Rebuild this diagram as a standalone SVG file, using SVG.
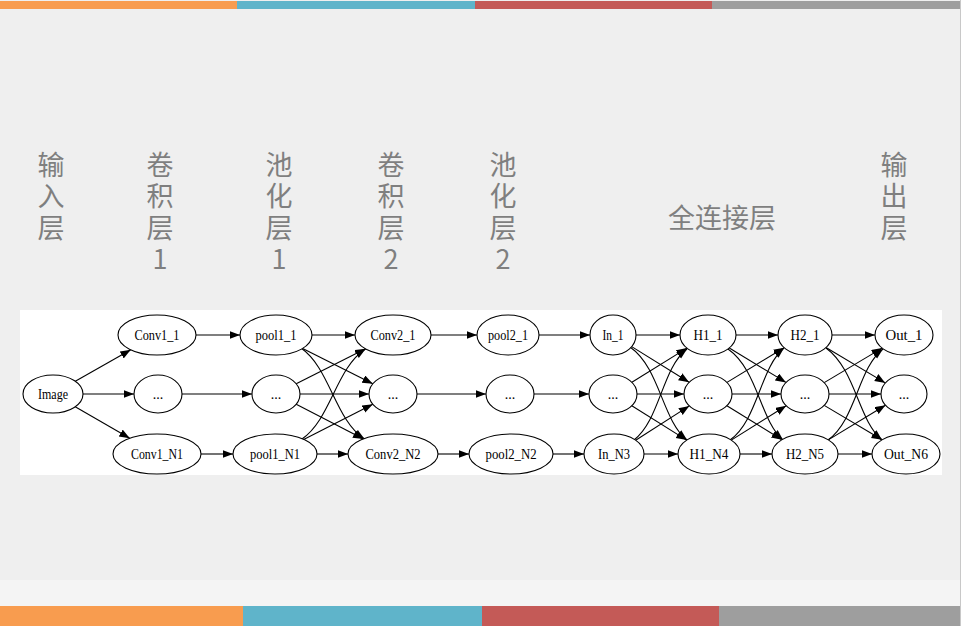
<svg xmlns="http://www.w3.org/2000/svg" width="961" height="626" viewBox="0 0 961 626">
  <style>
    .cap { font-family: "Noto Sans CJK SC", "Noto Sans", sans-serif; font-size: 27px; fill: #7f7f7f; }
    .vcap { writing-mode: vertical-rl; text-orientation: upright; letter-spacing: 4.5px; }
    .node ellipse { fill: #ffffff; stroke: #000000; stroke-width: 1.1; }
    .node text { font-family: "Liberation Serif", "Times New Roman", serif; font-size: 14px; fill: #000000; text-anchor: middle; }
    .edges path, .edges line { fill: none; stroke: #000000; stroke-width: 1.1; marker-end: url(#arrow); }
  </style>
  <defs>
    <marker id="arrow" markerUnits="userSpaceOnUse" markerWidth="12" markerHeight="9" refX="10.5" refY="4" orient="auto">
      <path d="M0,0 L10.5,4 L0,8 Z" fill="#000000"/>
    </marker>
  </defs>

  <!-- page background -->
  <rect x="0" y="0" width="961" height="626" fill="#efefef"/>
  <rect x="0" y="580" width="961" height="26" fill="#f4f4f4"/>
  <line x1="960.5" y1="0" x2="960.5" y2="626" stroke="#c8c8c8" stroke-width="1"/>

  <!-- colour bands -->
  <g id="top-band">
    <rect x="0" y="1" width="237" height="8" fill="#f89c4f"/>
    <rect x="237" y="1" width="238" height="8" fill="#5fb4ca"/>
    <rect x="475" y="1" width="237" height="8" fill="#c45a57"/>
    <rect x="712" y="1" width="248" height="8" fill="#9e9e9e"/>
  </g>
  <g id="bottom-band">
    <rect x="0" y="606" width="243" height="20" fill="#f89c4f"/>
    <rect x="243" y="606" width="239" height="20" fill="#5fb4ca"/>
    <rect x="482" y="606" width="237" height="20" fill="#c45a57"/>
    <rect x="719" y="606" width="241" height="20" fill="#9e9e9e"/>
  </g>

  <!-- layer captions, set vertically -->
  <g id="captions">
    <text class="cap vcap" x="51" y="151">输入层</text>
    <text class="cap vcap" x="160" y="151">卷积层1</text>
    <text class="cap vcap" x="279" y="151">池化层1</text>
    <text class="cap vcap" x="391" y="151">卷积层2</text>
    <text class="cap vcap" x="503" y="151">池化层2</text>
    <text class="cap" x="722" y="228" text-anchor="middle">全连接层</text>
    <text class="cap vcap" x="894" y="151">输出层</text>
  </g>

  <!-- network panel -->
  <rect x="20" y="310" width="922" height="165" fill="#ffffff"/>

  <g class="edges" id="connectors">
    <!-- input to conv1 -->
    <line x1="75.3" y1="381.3" x2="130.8" y2="349.8"/>
    <line x1="83" y1="394" x2="134" y2="394"/>
    <line x1="75.2" y1="406.8" x2="129.8" y2="438.3"/>
    <!-- conv1 to pool1 -->
    <line x1="196" y1="335" x2="240" y2="335"/>
    <line x1="182" y1="394" x2="252" y2="394"/>
    <line x1="201" y1="454" x2="233" y2="454"/>
    <!-- pool1 to conv2 -->
    <line x1="312" y1="335" x2="355" y2="335"/>
    <line x1="302.7" y1="348.4" x2="372.8" y2="383.8"/>
    <path d="M301,348 C330,368 335,420 364.5,439"/>
    <line x1="296.2" y1="383.8" x2="365.6" y2="348.8"/>
    <line x1="300" y1="394" x2="369" y2="394"/>
    <line x1="296.2" y1="404.2" x2="363.5" y2="438.9"/>
    <path d="M302,439 C331,419 336,368 365.5,349"/>
    <line x1="303.7" y1="439.4" x2="372.8" y2="404.3"/>
    <line x1="317" y1="454" x2="348" y2="454"/>
    <!-- conv2 to pool2 -->
    <line x1="431" y1="335" x2="477" y2="335"/>
    <line x1="417" y1="394" x2="486" y2="394"/>
    <line x1="438" y1="454" x2="469" y2="454"/>
    <!-- pool2 to flatten -->
    <line x1="539" y1="335" x2="590" y2="335"/>
    <line x1="534" y1="394" x2="589" y2="394"/>
    <line x1="553" y1="454" x2="584" y2="454"/>
    <!-- flatten to hidden 1 -->
    <line x1="636" y1="335" x2="680" y2="335"/>
    <line x1="631.7" y1="346.6" x2="689.1" y2="382.3"/>
    <path d="M630,347 C660,368 662,420 687,440"/>
    <line x1="631.9" y1="382.3" x2="686.9" y2="348.1"/>
    <line x1="637" y1="394" x2="684" y2="394"/>
    <line x1="631.8" y1="405.8" x2="686.7" y2="440.1"/>
    <path d="M634,440 C660,420 662,368 687,349"/>
    <line x1="635.7" y1="440.2" x2="689.3" y2="405.9"/>
    <line x1="644" y1="454" x2="678" y2="454"/>
    <!-- hidden 1 to hidden 2 -->
    <line x1="736" y1="335" x2="778" y2="335"/>
    <line x1="729.3" y1="348" x2="786" y2="382.4"/>
    <path d="M728,349 C758,370 760,420 783,440"/>
    <line x1="727" y1="382.4" x2="784.1" y2="347.7"/>
    <line x1="732" y1="394" x2="781" y2="394"/>
    <line x1="726.9" y1="405.7" x2="781.9" y2="439.7"/>
    <path d="M730,440 C758,420 760,368 784,348"/>
    <line x1="731.3" y1="440.1" x2="786.2" y2="405.8"/>
    <line x1="740" y1="454" x2="772" y2="454"/>
    <!-- hidden 2 to output -->
    <line x1="832" y1="335" x2="875" y2="335"/>
    <line x1="826" y1="347.5" x2="885.3" y2="382.9"/>
    <path d="M826,348 C856,370 858,420 882,440"/>
    <line x1="824.2" y1="382.6" x2="882.1" y2="348.1"/>
    <line x1="829" y1="394" x2="881" y2="394"/>
    <line x1="824.2" y1="405.4" x2="882.1" y2="439.8"/>
    <path d="M828,440 C856,420 858,368 883,349"/>
    <line x1="828.3" y1="439.9" x2="885.5" y2="405.2"/>
    <line x1="838" y1="454" x2="872" y2="454"/>
  </g>

  <g class="node" id="image"><ellipse cx="53" cy="394" rx="30" ry="19"/><text x="53" y="399" textLength="30" lengthAdjust="spacingAndGlyphs">Image</text></g>

  <g class="node" id="conv1-1"><ellipse cx="157" cy="335" rx="39" ry="20"/><text x="157" y="340" textLength="45" lengthAdjust="spacingAndGlyphs">Conv1_1</text></g>
  <g class="node" id="conv1-mid"><ellipse cx="158" cy="394" rx="24" ry="19"/><text x="158" y="399" font-size="12">...</text></g>
  <g class="node" id="conv1-n1"><ellipse cx="157" cy="454" rx="44" ry="20"/><text x="157" y="459" textLength="52" lengthAdjust="spacingAndGlyphs">Conv1_N1</text></g>

  <g class="node" id="pool1-1"><ellipse cx="276" cy="335" rx="36" ry="20"/><text x="276" y="340" textLength="41" lengthAdjust="spacingAndGlyphs">pool1_1</text></g>
  <g class="node" id="pool1-mid"><ellipse cx="276" cy="394" rx="24" ry="19"/><text x="276" y="399" font-size="12">...</text></g>
  <g class="node" id="pool1-n1"><ellipse cx="275" cy="454" rx="42" ry="20"/><text x="275" y="459" textLength="50" lengthAdjust="spacingAndGlyphs">pool1_N1</text></g>

  <g class="node" id="conv2-1"><ellipse cx="393" cy="335" rx="38" ry="20"/><text x="393" y="340" textLength="45" lengthAdjust="spacingAndGlyphs">Conv2_1</text></g>
  <g class="node" id="conv2-mid"><ellipse cx="393" cy="394" rx="24" ry="19"/><text x="393" y="399" font-size="12">...</text></g>
  <g class="node" id="conv2-n2"><ellipse cx="393" cy="454" rx="45" ry="20"/><text x="393" y="459" textLength="55" lengthAdjust="spacingAndGlyphs">Conv2_N2</text></g>

  <g class="node" id="pool2-1"><ellipse cx="508" cy="335" rx="31" ry="20"/><text x="508" y="340" textLength="40" lengthAdjust="spacingAndGlyphs">pool2_1</text></g>
  <g class="node" id="pool2-mid"><ellipse cx="510" cy="394" rx="24" ry="19"/><text x="510" y="399" font-size="12">...</text></g>
  <g class="node" id="pool2-n2"><ellipse cx="511" cy="454" rx="42" ry="20"/><text x="511" y="459" textLength="51" lengthAdjust="spacingAndGlyphs">pool2_N2</text></g>

  <g class="node" id="in-1"><ellipse cx="613" cy="335" rx="23" ry="20"/><text x="613" y="340" textLength="21" lengthAdjust="spacingAndGlyphs">In_1</text></g>
  <g class="node" id="in-mid"><ellipse cx="613" cy="394" rx="24" ry="19"/><text x="613" y="399" font-size="12">...</text></g>
  <g class="node" id="in-n3"><ellipse cx="614" cy="454" rx="30" ry="20"/><text x="614" y="459" textLength="32" lengthAdjust="spacingAndGlyphs">In_N3</text></g>

  <g class="node" id="h1-1"><ellipse cx="708" cy="335" rx="28" ry="20"/><text x="708" y="340" textLength="29" lengthAdjust="spacingAndGlyphs">H1_1</text></g>
  <g class="node" id="h1-mid"><ellipse cx="708" cy="394" rx="24" ry="19"/><text x="708" y="399" font-size="12">...</text></g>
  <g class="node" id="h1-n4"><ellipse cx="709" cy="454" rx="31" ry="20"/><text x="709" y="459" textLength="39" lengthAdjust="spacingAndGlyphs">H1_N4</text></g>

  <g class="node" id="h2-1"><ellipse cx="805" cy="335" rx="27" ry="20"/><text x="805" y="340" textLength="29" lengthAdjust="spacingAndGlyphs">H2_1</text></g>
  <g class="node" id="h2-mid"><ellipse cx="805" cy="394" rx="24" ry="19"/><text x="805" y="399" font-size="12">...</text></g>
  <g class="node" id="h2-n5"><ellipse cx="805" cy="454" rx="33" ry="20"/><text x="805" y="459" textLength="38" lengthAdjust="spacingAndGlyphs">H2_N5</text></g>

  <g class="node" id="out-1"><ellipse cx="904" cy="335" rx="29" ry="20"/><text x="904" y="340" textLength="37" lengthAdjust="spacingAndGlyphs">Out_1</text></g>
  <g class="node" id="out-mid"><ellipse cx="904" cy="394" rx="23" ry="19"/><text x="904" y="399" font-size="12">...</text></g>
  <g class="node" id="out-n6"><ellipse cx="906" cy="454" rx="34" ry="20"/><text x="906" y="459" textLength="44" lengthAdjust="spacingAndGlyphs">Out_N6</text></g>
</svg>
